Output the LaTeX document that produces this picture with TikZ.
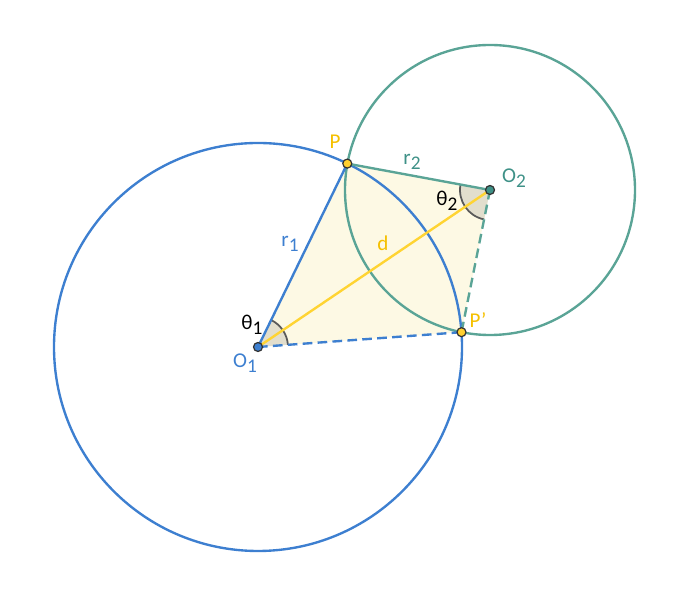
\documentclass[tikz,border=0pt]{standalone}
\usepackage{fontspec}
\setmainfont{Carlito}
\usepackage{xcolor}
\usepackage{tikz}
\usetikzlibrary{positioning}
\usetikzlibrary{angles}

\definecolor{circblue}{RGB}{61,127,208}
\definecolor{circteal}{RGB}{90,164,150}
\definecolor{labteal}{RGB}{62,145,135}
\definecolor{segyellow}{RGB}{255,212,50}
\definecolor{labyellow}{RGB}{245,192,0}
\definecolor{kitefill}{RGB}{253,249,228}
\definecolor{wedgefill}{RGB}{226,222,205}
\newcommand{\idx}[1]{\raisebox{-0.5ex}{\fontsize{11pt}{12pt}\selectfont #1}}

\begin{document}
\begin{tikzpicture}
            [x=0.02cm, y=0.02cm,
             dot/.style = {minimum size = 0.18cm, inner sep=0pt, draw=black!80, line width=0.7pt, circle},
             lab/.style = {font=\fontsize{12pt}{14pt}\selectfont, inner sep=1pt},
             thick line/.style = {line width=1.35pt},
             dash line/.style = {line width=1.35pt, dash pattern=on 5.5pt off 3pt},
             wedge/.style = {draw=black!65, line width=1pt, fill=wedgefill, angle radius=0.6cm}]

            \useasboundingbox (0,0) rectangle (687,605);

            \coordinate (O1) at (258,258);
            \coordinate (O2) at (490,415);
            \coordinate (P) at (347.3,441.4);
            \coordinate (Pp) at (461.5,272.8);

            % kite between the two centres
            \fill[kitefill] (O1) -- (P) -- (O2) -- (Pp) -- cycle;
            \pic[wedge] {angle = Pp--O1--P};
            \pic[wedge] {angle = P--O2--Pp};

            \draw[thick line, circblue] (O1) circle (204);
            \draw[thick line, circteal] (O2) circle (145);

            \draw[thick line, circblue] (O1) -- (P);
            \draw[dash line, circblue] (O1) -- (Pp);
            \draw[thick line, circteal] (O2) -- (P);
            \draw[dash line, circteal] (O2) -- (Pp);
            \draw[thick line, segyellow] (O1) -- (O2);

            \node[dot, fill=circblue] (o1dot) at (O1) {};
            \node[dot, fill=labteal] (o2dot) at (O2) {};
            \node[dot, fill=segyellow!95!orange] (pdot) at (P) {};
            \node[dot, fill=segyellow!95!orange] (ppdot) at (Pp) {};

            \node[lab, text=circblue] (o1lab) at (245,242) {O\idx{1}};
            \node[lab, text=labteal] (o2lab) at (514,427) {O\idx{2}};
            \node[lab, text=labyellow] (plab) at (335,463) {P};
            \node[lab, text=labyellow] (pplab) at (478,285) {P'};
            \node[lab, text=circblue] (r1lab) at (290,361) {r\idx{1}};
            \node[lab, text=labteal] (r2lab) at (412,443) {r\idx{2}};
            \node[lab, text=labyellow] (dlab) at (383,362) {d};
            \node[lab] (t1lab) at (252,280) {θ\idx{1}};
            \node[lab] (t2lab) at (447,404) {θ\idx{2}};

        \end{tikzpicture}
\end{document}
